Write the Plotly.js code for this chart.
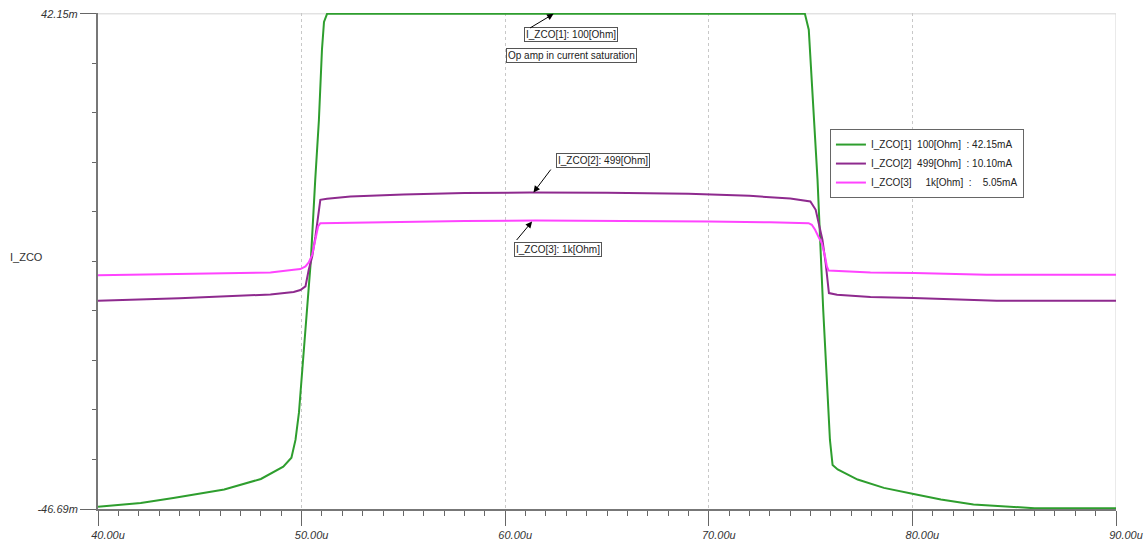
<!DOCTYPE html>
<html>
<head>
<meta charset="utf-8">
<script src="https://cdn.plot.ly/plotly-3.0.1.min.js"></script>
<style>html,body{margin:0;padding:0;background:#fff;}#chart{width:1144px;height:541px;}</style>
</head>
<body>
<div id="chart"></div>
<script>
// ---- Data (time in microseconds, current in mA) ----
const seriesNames = [
  "I_ZCO[1]\u00a0\u00a0100[Ohm]\u00a0\u00a0: 42.15mA",
  "I_ZCO[2]\u00a0\u00a0499[Ohm]\u00a0\u00a0: 10.10mA",
  "I_ZCO[3]\u00a0\u00a0\u00a0\u00a0\u00a01k[Ohm]\u00a0\u00a0:\u00a0\u00a0\u00a0\u00a05.05mA"
];
const seriesColors = ["#2e9e2e", "#8e2a8e", "#ff44ff"];

const t100 = [40.0, 42.1, 43.7, 45.1, 46.2, 48.0, 49.1, 49.5, 49.7, 49.87, 50.0, 50.26, 50.45, 50.67, 50.85, 51.0, 51.1, 51.25,
              74.72, 74.91, 75.11, 75.34, 75.62, 75.8, 75.95, 76.08, 76.33, 77.31, 78.6, 80.06, 81.4, 83.0, 85.0, 86.0, 90.0];
const i100 = [-46.3, -45.6, -44.7, -43.8, -43.2, -41.3, -39.1, -37.5, -34.3, -29.4, -23.5, -11.0, -2.3, 12.4, 23.1, 35.7, 40.7, 42.15,
              42.15, 39.3, 26.7, 12.4, -11.0, -23.5, -34.3, -38.8, -39.6, -41.4, -42.9, -44.0, -45.0, -45.9, -46.4, -46.55, -46.55];

const t499 = [40.0, 44.0, 48.47, 49.61, 49.94, 50.19, 50.35, 50.52, 50.68, 50.84, 50.92, 51.25, 52.4, 55.0, 58.0, 61.2, 65.0, 69.0, 72.0, 74.0, 74.99,
              75.25, 75.41, 75.58, 75.74, 75.82, 75.9, 76.3, 77.94, 80.05, 84.14, 90.0];
const i499 = [-9.33, -8.9, -8.2, -7.75, -7.4, -6.76, -3.77, -1.38, 2.2, 7.0, 8.79, 8.97, 9.38, 9.75, 10.0, 10.1, 10.05, 9.85, 9.5, 9.0, 8.5,
              6.99, 4.6, 1.61, -2.57, -5.56, -7.95, -8.25, -8.67, -8.84, -9.33, -9.33];

const t1k = [40.0, 44.0, 48.47, 49.61, 49.94, 50.19, 50.35, 50.52, 50.68, 50.81, 50.92, 52.4, 55.0, 58.0, 61.5, 66.0, 70.0, 73.0, 74.9,
             75.06, 75.22, 75.38, 75.55, 75.71, 75.8, 75.88, 77.94, 80.1, 83.65, 90.0];
const i1k = [-4.75, -4.55, -4.25, -3.77, -3.64, -3.17, -2.46, -1.08, 1.61, 4.0, 4.6, 4.71, 4.85, 5.0, 5.05, 5.0, 4.9, 4.75, 4.6,
             4.3, 3.4, 2.2, 1.0, -1.38, -3.17, -3.89, -4.25, -4.36, -4.66, -4.66];

const xTickVals = [40, 50, 60, 70, 80, 90];
const xTickText = ["40.00u", "50.00u", "60.00u", "70.00u", "80.00u", "90.00u"];
const yTickVals = [-46.69, 42.15];
const yTickText = ["-46.69m", "42.15m"];

const FONT = "Liberation Sans, Arial, sans-serif";

const traces = [
  {x: t100, y: i100, name: seriesNames[0], mode: "lines", line: {color: seriesColors[0], width: 2}},
  {x: t499, y: i499, name: seriesNames[1], mode: "lines", line: {color: seriesColors[1], width: 2}},
  {x: t1k,  y: i1k,  name: seriesNames[2], mode: "lines", line: {color: seriesColors[2], width: 2}}
];

const boxStyle = {bgcolor: "#ffffff", bordercolor: "#555", borderwidth: 1, borderpad: 1,
                  font: {family: FONT, size: 10, color: "#222"}, showarrow: false,
                  xanchor: "center", yanchor: "middle", xref: "x", yref: "y"};
const arrowStyle = {text: "", showarrow: true, arrowhead: 2, arrowsize: 1.3, arrowwidth: 1,
                    arrowcolor: "#000", standoff: 0, xref: "x", yref: "y"};

const layout = {
  width: 1144, height: 541,
  margin: {l: 98, r: 28, t: 13, b: 32},
  paper_bgcolor: "#fff", plot_bgcolor: "#fff",
  font: {family: FONT, size: 11, color: "#333"},
  showlegend: true,
  legend: {x: 0.719, y: 0.766, xanchor: "left", yanchor: "top",
           bgcolor: "#fff", bordercolor: "#666", borderwidth: 1,
           font: {family: FONT, size: 10, color: "#222"}, tracegroupgap: 0},
  xaxis: {
    range: [40, 90], tickmode: "array", tickvals: xTickVals, ticktext: xTickText,
    ticks: "outside", ticklen: 15, tickcolor: "#666", tickwidth: 1,
    showline: true, linecolor: "#777", linewidth: 2,
    showgrid: true, gridcolor: "#c8c8c8", griddash: "dot", gridwidth: 1,
    zeroline: false, ticklabelshift: 10,
    tickfont: {family: FONT, size: 11, color: "#333", style: "italic"},
    minor: {tick0: 40, dtick: 1, ticks: "outside", ticklen: 5, tickcolor: "#666", showgrid: false}
  },
  yaxis: {
    range: [-46.69, 42.3], tickmode: "array", tickvals: yTickVals, ticktext: yTickText,
    ticks: "outside", ticklen: 16, tickcolor: "#666", tickwidth: 1,
    showline: true, linecolor: "#777", linewidth: 2,
    showgrid: false, zeroline: false,
    tickfont: {family: FONT, size: 11, color: "#333", style: "italic"},
    minor: {tick0: -46.69, dtick: 8.884, ticks: "outside", ticklen: 4, tickcolor: "#666", showgrid: false}
  },
  shapes: [
    {type: "line", xref: "paper", yref: "y", x0: 0, x1: 1, y0: 42.15, y1: 42.15, line: {color: "#d4d4d4", width: 1}, layer: "below"},
    {type: "line", xref: "x", yref: "y", x0: 90, x1: 90, y0: -46.69, y1: 42.15, line: {color: "#d4d4d4", width: 1}, layer: "below"}
  ],
  annotations: [
    {text: "I_ZCO", xref: "paper", yref: "paper", x: -0.0884, y: 0.508, xanchor: "left", yanchor: "middle",
     showarrow: false, font: {family: FONT, size: 11, color: "#333"}},
    Object.assign({}, boxStyle, {text: "I_ZCO[1]: 100[Ohm]", x: 63.245, y: 38.47}),
    Object.assign({}, boxStyle, {text: "Op amp in current saturation", x: 63.27, y: 34.62}),
    Object.assign({}, boxStyle, {text: "I_ZCO[2]: 499[Ohm]", x: 64.79, y: 15.78}),
    Object.assign({}, boxStyle, {text: "I_ZCO[3]: 1k[Ohm]", x: 62.58, y: -0.09}),
    Object.assign({}, arrowStyle, {x: 62.376, y: 42.15, ax: -25, ay: 15}),
    Object.assign({}, arrowStyle, {x: 61.39, y: 10.10, ax: 18.4, ay: -24.4}),
    Object.assign({}, arrowStyle, {x: 61.32, y: 4.89, ax: -16.7, ay: 20})
  ]
};

Plotly.newPlot("chart", traces, layout, {displayModeBar: false, staticPlot: true});
</script>
</body>
</html>
